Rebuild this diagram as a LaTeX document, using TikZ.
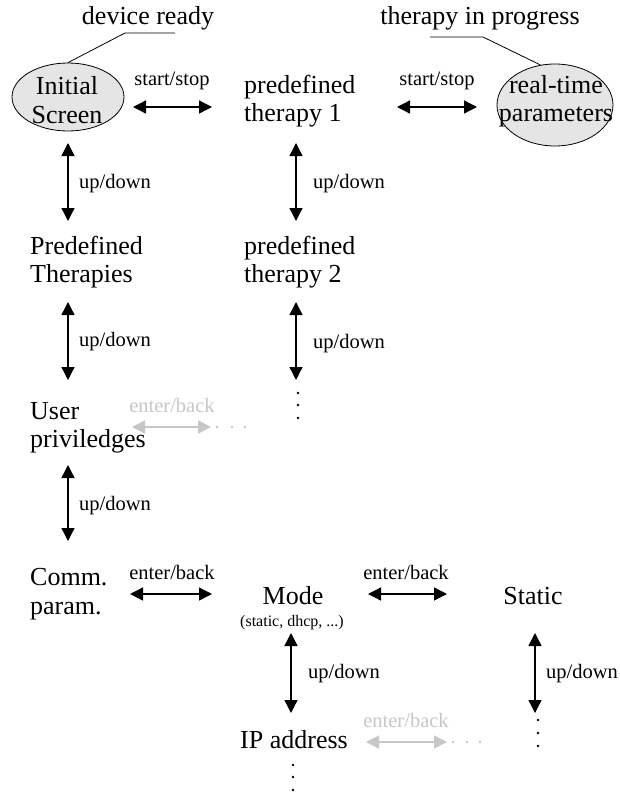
\documentclass[tikz,border=0pt]{standalone}
\usepackage{fontspec}
\setmainfont{Liberation Serif}
\usetikzlibrary{arrows.meta,shapes.geometric}
\begin{document}
\begin{tikzpicture}[x=1pt,y=-1pt,
  state/.style={font=\fontsize{26}{28.5}\selectfont, align=left, inner sep=0pt},
  bubble/.style={ellipse, draw, line width=0.8pt, fill=black!10, inner sep=0pt},
  lbl/.style={font=\fontsize{20.5}{22}\selectfont, inner sep=0pt},
  sub/.style={font=\fontsize{16}{18}\selectfont, inner sep=0pt},
  link/.style={line width=1.3pt, {Triangle[length=13pt,width=13pt]}-{Triangle[length=13pt,width=13pt]}},
  faded/.style={black!22},
  leader/.style={line width=0.8pt},
  dot/.style={circle, fill, inner sep=0pt, minimum size=2.6pt}
]
\useasboundingbox (0,0) rectangle (619,795);

% ---- states ----
\node[bubble, minimum width=112pt, minimum height=68pt] (initshape) at (68,97) {};
\node[state, align=center] (init) at (67,100) {Initial\\Screen};
\node[state, anchor=west] (pt1) at (244,101) {predefined\\therapy 1};
\node[bubble, minimum width=116pt, minimum height=82pt] (rtshape) at (555,105) {};
\node[state, align=center] (rt) at (556,101) {real-time\\parameters};
\node[state, anchor=west] (pth) at (30,262) {Predefined\\Therapies};
\node[state, anchor=west] (pt2) at (244,262) {predefined\\therapy 2};
\node[state, anchor=west] (usr) at (30,428) {User\\priviledges};
\node[state, anchor=west] (comm) at (30,594) {Comm.\\param.};
\node[state] (mode) at (293,596) {Mode};
\node[sub] (modeopt) at (292,623) {(static, dhcp, ...)};
\node[state] (static) at (533,596) {Static};
\node[state, anchor=west] (ip) at (240,740) {IP address};

% ---- status callouts ----
\node[state] (ready) at (148,18) {device ready};
\node[state] (prog) at (480,18) {therapy in progress};
\coordinate (readyA) at (175,33);
\coordinate (readyB) at (125,33);
\draw[leader] (readyA) -- (readyB) -- (initshape.north);
\coordinate (progA) at (430,37);
\coordinate (progB) at (483,37);
\draw[leader] (progA) -- (progB) -- (rtshape.110);

% ---- horizontal transitions ----
\coordinate (h1a) at (133,107); \coordinate (h1b) at (212,107);
\draw[link] (h1a) -- (h1b);
\node[lbl] (l1) at (172,81) {start/stop};
\coordinate (h2a) at (397,107); \coordinate (h2b) at (477,107);
\draw[link] (h2a) -- (h2b);
\node[lbl] (l2) at (437,81) {start/stop};
\coordinate (h3a) at (132,427); \coordinate (h3b) at (211,427);
\draw[link, faded] (h3a) -- (h3b);
\node[lbl, faded] (l3) at (172,405) {enter/back};
\coordinate (h4a) at (130,594); \coordinate (h4b) at (212,594);
\draw[link] (h4a) -- (h4b);
\node[lbl] (l4) at (172,572) {enter/back};
\coordinate (h5a) at (368,594); \coordinate (h5b) at (447,594);
\draw[link] (h5a) -- (h5b);
\node[lbl] (l5) at (406,572) {enter/back};
\coordinate (h6a) at (366,742); \coordinate (h6b) at (447,742);
\draw[link, faded] (h6a) -- (h6b);
\node[lbl, faded] (l6) at (406,720) {enter/back};

% ---- vertical transitions ----
\coordinate (v1a) at (68,143); \coordinate (v1b) at (68,221);
\draw[link] (v1a) -- (v1b);
\node[lbl, anchor=west] (u1) at (79,184) {up/down};
\coordinate (v2a) at (296,143); \coordinate (v2b) at (296,221);
\draw[link] (v2a) -- (v2b);
\node[lbl, anchor=west] (u2) at (313,184) {up/down};
\coordinate (v3a) at (68,302); \coordinate (v3b) at (68,380);
\draw[link] (v3a) -- (v3b);
\node[lbl, anchor=west] (u3) at (79,342) {up/down};
\coordinate (v4a) at (296,302); \coordinate (v4b) at (296,380);
\draw[link] (v4a) -- (v4b);
\node[lbl, anchor=west] (u4) at (313,344) {up/down};
\coordinate (v5a) at (68,465); \coordinate (v5b) at (68,541);
\draw[link] (v5a) -- (v5b);
\node[lbl, anchor=west] (u5) at (79,506) {up/down};
\coordinate (v6a) at (291,633); \coordinate (v6b) at (291,713);
\draw[link] (v6a) -- (v6b);
\node[lbl, anchor=west] (u6) at (308,674) {up/down};
\coordinate (v7a) at (535,633); \coordinate (v7b) at (535,713);
\draw[link] (v7a) -- (v7b);
\node[lbl, anchor=west] (u7) at (546,674) {up/down};

% ---- continuation dots ----
\foreach \y [count=\i] in {393,405,418} \node[dot] (dA\i) at (298,\y) {};
\foreach \x [count=\i] in {217,232,245} \node[dot, faded] (dB\i) at (\x,427) {};
\foreach \x [count=\i] in {453,467,480} \node[dot, faded] (dC\i) at (\x,742) {};
\foreach \y [count=\i] in {720,733,746} \node[dot] (dD\i) at (538,\y) {};
\foreach \y [count=\i] in {765,777,790} \node[dot] (dE\i) at (293,\y) {};
\end{tikzpicture}
\end{document}
